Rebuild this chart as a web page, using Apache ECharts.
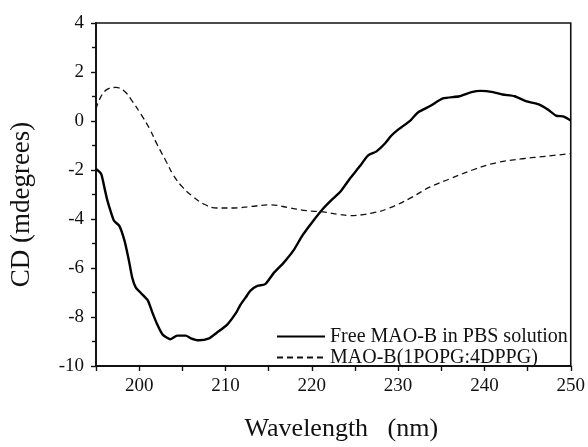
<!DOCTYPE html>
<html>
<head>
<meta charset="utf-8">
<script src="https://cdn.jsdelivr.net/npm/echarts@6/dist/echarts.min.js"></script>
<style>
html,body{margin:0;padding:0;background:#fff;}
#chart{width:588px;height:447px;}
</style>
</head>
<body>
<div id="chart"></div>
<script>
// Free MAO-B in PBS solution
const freeWavelength = [195.0,195.6,196.0,196.3,196.7,197.1,197.7,198.3,198.8,199.2,199.6,200.2,201.0,201.5,202.1,202.7,203.6,204.4,205.4,206.0,206.9,208.1,209.0,210.2,211.3,211.7,212.5,212.9,213.7,214.6,215.6,216.7,217.9,218.9,220.0,221.2,222.3,223.3,224.4,225.6,226.5,227.5,228.5,229.2,230.0,230.6,231.5,232.3,233.7,235.2,237.1,238.5,239.6,241.0,242.1,243.5,244.8,246.3,247.3,248.3,249.2,250.0];
const freeCD = [-1.96,-2.16,-2.76,-3.22,-3.69,-4.08,-4.28,-4.88,-5.67,-6.40,-6.79,-7.02,-7.32,-7.79,-8.31,-8.71,-8.91,-8.76,-8.76,-8.87,-8.95,-8.87,-8.64,-8.31,-7.79,-7.52,-7.12,-6.92,-6.73,-6.66,-6.20,-5.80,-5.27,-4.68,-4.15,-3.62,-3.22,-2.89,-2.36,-1.83,-1.41,-1.24,-0.91,-0.60,-0.35,-0.20,0.05,0.35,0.61,0.92,1.01,1.18,1.23,1.18,1.08,1.01,0.81,0.68,0.48,0.22,0.18,0.02];

// MAO-B(1POPG:4DPPG)
const lipidWavelength = [195.0,195.4,196.2,197.3,198.3,199.2,200.2,201.2,202.1,203.1,204.0,205.0,206.0,207.5,209.0,211.0,212.9,215.2,217.5,219.4,221.3,223.3,224.4,227.1,229.0,231.4,233.7,236.0,238.7,241.4,244.4,247.1,250.0];
const lipidCD = [0.48,0.88,1.27,1.37,1.21,0.81,0.28,-0.31,-0.97,-1.63,-2.23,-2.69,-3.02,-3.39,-3.55,-3.55,-3.49,-3.42,-3.55,-3.66,-3.71,-3.82,-3.86,-3.75,-3.55,-3.15,-2.69,-2.36,-1.99,-1.70,-1.54,-1.44,-1.33];

const seriesNames = ['Free MAO-B in PBS solution', 'MAO-B(1POPG:4DPPG)'];
const xLabelValues = [200,210,220,230,240,250];
const yTickStep = 2;

const zip = (xs, ys) => xs.map((x, i) => [x, ys[i]]);
const FONT = '"Liberation Serif", "Times New Roman", serif';

const chart = echarts.init(document.getElementById('chart'), null, {renderer: 'canvas'});
chart.setOption({
  animation: false,
  backgroundColor: '#fff',
  grid: {left: 95, right: 16, top: 23, bottom: 71, show: true, borderColor: '#111', borderWidth: 1.6, backgroundColor: 'transparent'},
  legend: {
    left: 276, top: 326, orient: 'vertical', padding: 0, itemGap: 0,
    itemWidth: 48, itemHeight: 14,
    data: seriesNames,
    itemStyle: {opacity: 0},
    textStyle: {fontFamily: FONT, fontSize: 20, color: '#111', lineHeight: 21}
  },
  xAxis: {
    type: 'value', min: 195, max: 250, interval: 5,
    name: 'Wavelength   (nm)', nameLocation: 'middle', nameGap: 50,
    nameTextStyle: {fontFamily: FONT, fontSize: 26, color: '#111', padding: [0, 0, 0, 16]},
    axisLine: {show: true, onZero: false, lineStyle: {color: '#111', width: 1.8}},
    axisTick: {show: true, inside: false, length: 5, lineStyle: {color: '#111', width: 1.4}},
    axisLabel: {
      margin: 11, fontFamily: FONT, fontSize: 19, color: '#111',
      formatter: v => xLabelValues.includes(v) ? String(v) : ''
    },
    splitLine: {show: false}
  },
  yAxis: {
    type: 'value', min: -10, max: 4, interval: yTickStep,
    name: 'CD (mdegrees)', nameLocation: 'middle', nameGap: 61, nameRotate: 90,
    nameTextStyle: {fontFamily: FONT, fontSize: 27, color: '#111', padding: [0, 20, 0, 0]},
    axisLine: {show: true, onZero: false, lineStyle: {color: '#111', width: 1.8}},
    axisTick: {show: true, inside: false, length: 5, lineStyle: {color: '#111', width: 1.4}},
    minorTick: {show: true, splitNumber: 2, length: 4, lineStyle: {color: '#111', width: 1.4}},
    axisLabel: {margin: 12, fontFamily: FONT, fontSize: 19, color: '#111'},
    splitLine: {show: false}
  },
  series: [
    {
      name: seriesNames[0], type: 'line', symbol: 'none', smooth: 0.2,
      data: zip(freeWavelength, freeCD),
      lineStyle: {color: '#000', width: 2.4, type: 'solid'},
      itemStyle: {color: '#000'}
    },
    {
      name: seriesNames[1], type: 'line', symbol: 'none', smooth: 0.4,
      data: zip(lipidWavelength, lipidCD),
      lineStyle: {color: '#111', width: 1.3, type: [6, 4]},
      itemStyle: {color: '#111'}
    }
  ]
});
</script>
</body>
</html>
